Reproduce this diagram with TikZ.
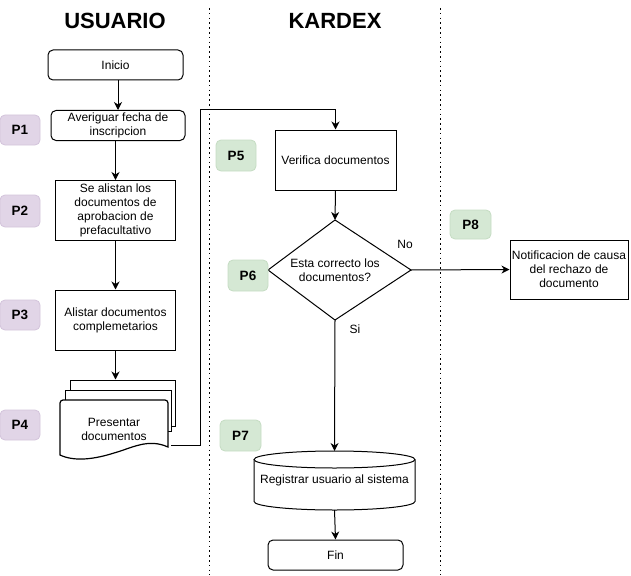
\documentclass[tikz,border=0pt]{standalone}
\usepackage{fontspec}
\setmainfont{Liberation Sans}
\usetikzlibrary{shapes.geometric,arrows.meta,calc}
\definecolor{lilac}{HTML}{E1D5E7}
\definecolor{lilacline}{HTML}{D3C4DB}
\definecolor{mint}{HTML}{D5E8D4}
\definecolor{mintline}{HTML}{C5DCC3}
\tikzset{
  txt/.style={font=\fontsize{12}{14}\selectfont, align=center, inner sep=0pt},
  procbox/.style={txt, draw, fill=white, line width=1pt},
  roundbox/.style={procbox, rounded corners=5pt},
  pagebox/.style={draw, fill=white, line width=1pt, inner sep=0pt},
  tagP/.style={rounded corners=5pt, fill=lilac, draw=lilacline, line width=0.8pt,
     font=\fontsize{13.5}{15}\selectfont\bfseries, inner sep=0pt, minimum width=40pt, minimum height=30pt},
  tagK/.style={tagP, fill=mint, draw=mintline},
  arr/.style={line width=1pt, -{Stealth[length=8pt,width=8pt,inset=2.5pt]}},
  lane/.style={line width=1.6pt, dash pattern=on 1.6pt off 3.2pt, draw=black},
  title/.style={font=\fontsize{22}{24}\selectfont\bfseries, inner sep=0pt}
}
\begin{document}
\begin{tikzpicture}[x=1pt,y=-1pt]
\useasboundingbox (0,0) rectangle (631,575);

% lanes
\coordinate (laneAtop) at (209.5,8);
\coordinate (laneAbot) at (209.5,575);
\coordinate (laneBtop) at (440.5,8);
\coordinate (laneBbot) at (440.5,575);
\draw[lane] (laneAtop) -- (laneAbot);
\draw[lane] (laneBtop) -- (laneBbot);

% titles
\node[title] (tU) at (115,20.5) {USUARIO};
\node[title] (tK) at (335,20.5) {KARDEX};

% USUARIO lane
\node[roundbox, minimum width=135pt, minimum height=30pt] (inicio) at (115.5,65) {Inicio};
\node[roundbox, minimum width=134pt, minimum height=30pt] (p1) at (118,125.5) {Averiguar fecha de\\inscripcion};
\node[procbox, minimum width=120pt, minimum height=60pt] (p2) at (115.5,210.5) {Se alistan los\\documentos de\\aprobacion de\\prefacultativo};
\node[procbox, minimum width=120pt, minimum height=60pt] (p3) at (115.5,320) {Alistar documentos\\complemetarios};

% multi document
\node[pagebox, minimum width=105pt, minimum height=46pt] (pg3) at (122.5,403) {};
\node[pagebox, minimum width=106pt, minimum height=41pt] (pg2) at (118,410.5) {};
\draw[fill=white, line width=1.2pt] (60,455) [rounded corners=3pt] -- (60,400) -- (168,400) [sharp corners] -- (168,447)
  .. controls (148,438) and (132,448) .. (114,453)
  .. controls (95,459) and (75,462) .. (60,455) -- cycle;
\node[txt] (p4) at (114,429.5) {Presentar\\documentos};
\coordinate (p4out) at (171,445);
\coordinate (bend) at (200.5,110);

% KARDEX lane
\node[procbox, minimum width=121pt, minimum height=60pt] (verif) at (335.5,160) {Verifica documentos};
\coordinate (decN) at (335,220);
\coordinate (decE) at (411,270);
\coordinate (decS) at (335,320);
\coordinate (decW) at (268,270);
\draw[fill=white, line width=1pt] (decN) -- (decE) -- (decS) -- (decW) -- cycle;
\node[txt] (dec) at (335,270) {Esta correcto los\\documentos?};
\node[procbox, minimum width=118pt, minimum height=59pt] (notif) at (569,269.5) {Notificacion de causa\\del rechazo de\\documento};

% cylinder
\draw[fill=white, line width=1pt] (254,459.5) -- (254,501.5) arc[start angle=180, end angle=360, x radius=80.5pt, y radius=8.5pt] -- (415,459.5);
\draw[fill=white, line width=1pt] (334.5,459.5) ellipse [x radius=80.5pt, y radius=8.5pt];
\node[txt, minimum width=161pt, minimum height=59pt] (cyl) at (334.5,480.5) {Registrar usuario al sistema};
\coordinate (cyltop) at (334.5,451);
\coordinate (cylbot) at (334.5,510);

\node[roundbox, minimum width=135pt, minimum height=30pt] (fin) at (335.5,555) {Fin};

% labels
\node[txt] (lno) at (405,244.5) {No};
\node[txt] (lsi) at (355,329.5) {Si};

% step tags
\node[tagP] (t1) at (20,130) {P1};
\node[tagP, minimum height=32pt] (t2) at (20,211) {P2};
\node[tagP] (t3) at (20,315) {P3};
\node[tagP] (t4) at (20,425) {P4};
\node[tagK, minimum height=31pt] (t5) at (236,155.5) {P5};
\node[tagK, minimum height=31pt] (t6) at (248,275.5) {P6};
\node[tagK, minimum width=41pt, minimum height=31pt] (t7) at (240.5,435.5) {P7};
\node[tagK, minimum width=41pt, minimum height=29pt] (t8) at (470.5,224.5) {P8};

% connectors
\draw[arr] (p1.north |- inicio.south) -- (p1.north);
\draw[arr] (p2.north |- p1.south) -- (p2.north);
\draw[arr] (p2.south) -- (p3.north);
\draw[arr] (p3.south) -- (p3.south |- pg3.north);
\draw[arr] (p4out) -| (bend) -| (verif.north);
\draw[arr] (verif.south) -- (decN);
\draw[arr] (decE) -- (notif.west);
\draw[arr] (decS) -- (cyltop);
\draw[arr] (cylbot) -- (fin.north);
\end{tikzpicture}
\end{document}
